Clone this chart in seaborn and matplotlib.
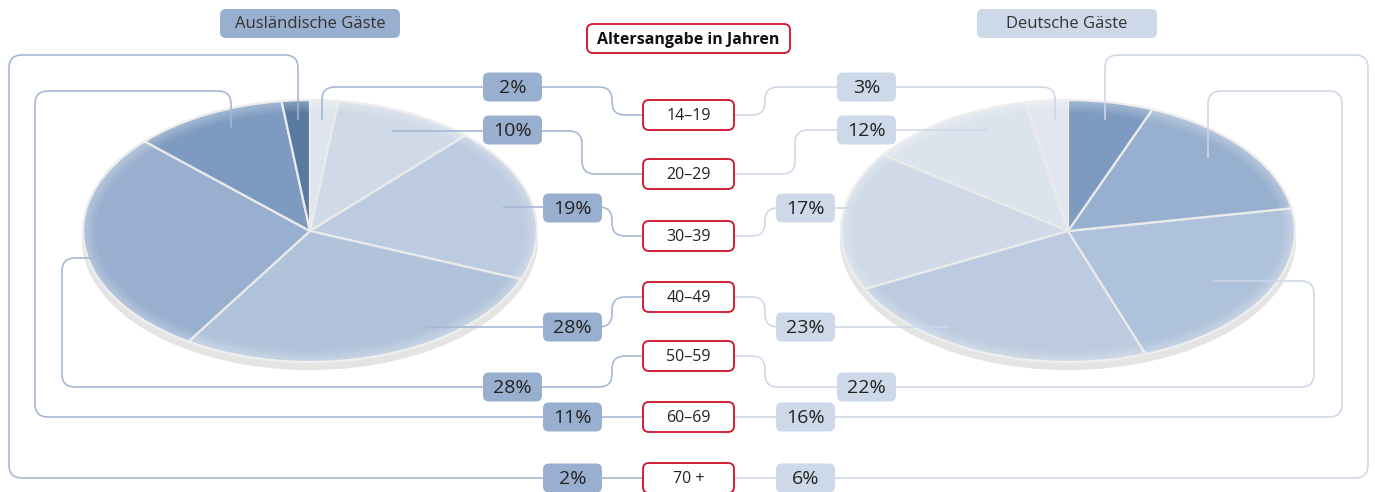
import numpy as np
import matplotlib
matplotlib.use("Agg")
import matplotlib.pyplot as plt
from matplotlib.patches import FancyBboxPatch, PathPatch, Ellipse
from matplotlib.path import Path
import seaborn as sns

sns.set_theme(style="white")
plt.rcParams["font.family"] = ["Liberation Sans Narrow", "Open Sans", "DejaVu Sans"]

# --- data ---
age_groups = ["14–19", "20–29", "30–39", "40–49", "50–59", "60–69", "70 +"]
ausland = [2, 10, 19, 28, 28, 11, 2]
deutsch = [3, 12, 17, 23, 22, 16, 6]
ausland_colors = ["#dfe5ee", "#cfd9e7", "#bccbe0", "#b0c3db", "#98afcf", "#7d9bc1", "#587aa1"]
deutsch_colors = ["#e3e6ee", "#dbe3ed", "#cfd9e7", "#bccbdf", "#afc2db", "#98b0cf", "#7d9bc1"]

# --- layout (pixels) ---
W, H = 1375, 492
LCOL = "#98afcf"
RCOL = "#cdd8e8"
LLINE = "#a3b6d3"
RLINE = "#cdd7e7"
RED = "#d0102a"

age_y = [115, 174, 236, 297, 356, 417, 478]
box_y = [87, 130, 208, 327, 387, 417, 478]
left_box_x = [483, 483, 543, 543, 483, 543, 543]
right_box_x = [837, 837, 776, 776, 837, 776, 776]

# connector routes: pie -> percent box -> age box
left_paths = [
    [(322, 120), (322, 87), (612, 87), (612, 115), (643, 115)],
    [(392, 131), (582, 131), (582, 174), (643, 174)],
    [(503, 207), (612, 207), (612, 236), (643, 236)],
    [(425, 327), (612, 327), (612, 297), (643, 297)],
    [(105, 258), (62, 258), (62, 387), (612, 387), (612, 356), (643, 356)],
    [(231, 128), (231, 91), (35, 91), (35, 417), (643, 417)],
    [(298, 120), (298, 55), (9, 55), (9, 478), (643, 478)],
]
right_paths = [
    [(734, 115), (765, 115), (765, 87), (1055, 87), (1055, 120)],
    [(734, 174), (795, 174), (795, 130), (988, 130)],
    [(734, 236), (765, 236), (765, 208), (850, 208)],
    [(734, 297), (765, 297), (765, 327), (950, 327)],
    [(734, 356), (765, 356), (765, 387), (1314, 387), (1314, 281), (1213, 281)],
    [(734, 417), (1342, 417), (1342, 91), (1208, 91), (1208, 158)],
    [(734, 478), (1368, 478), (1368, 55), (1105, 55), (1105, 120)],
]


def rounded_path(points, r=13):
    pts = [np.array(p, dtype=float) for p in points]
    verts = [pts[0]]
    codes = [Path.MOVETO]
    for i in range(1, len(pts) - 1):
        p0, p1, p2 = pts[i - 1], pts[i], pts[i + 1]
        l1 = np.linalg.norm(p1 - p0)
        l2 = np.linalg.norm(p2 - p1)
        rr = min(r, l1 / 2, l2 / 2)
        a = p1 - (p1 - p0) / l1 * rr
        b = p1 + (p2 - p1) / l2 * rr
        verts += [a, p1, b]
        codes += [Path.LINETO, Path.CURVE3, Path.CURVE3]
    verts.append(pts[-1])
    codes.append(Path.LINETO)
    return Path(verts, codes)


def box(ax, x, y, w, h, text, fc, ec="none", lw=0, size=14, weight="normal", color="#222222"):
    ax.add_patch(FancyBboxPatch((x, y), w, h, boxstyle="round,pad=0,rounding_size=6",
                                fc=fc, ec=ec, lw=lw, zorder=4))
    ax.text(x + w / 2, y + h / 2 + 1, text, ha="center", va="center", fontsize=size,
            fontweight=weight, color=color, zorder=5)


def draw_pie(fig, cx, cy, values, colors, counterclock, rx=227, ry=131, pad=0.12):
    x0, x1 = cx - rx * (1 + pad), cx + rx * (1 + pad)
    yt, yb = cy - ry * (1 + pad), cy + ry * (1 + pad)
    a = fig.add_axes([x0 / W, 1 - yb / H, (x1 - x0) / W, (yb - yt) / H])
    # grey base below the disc
    a.add_patch(Ellipse((0, -0.062), 2.01, 2.0, fc="#e4e4e4", ec="none", zorder=0))
    wedges, _ = a.pie(values, colors=colors, startangle=90, counterclock=counterclock,
                      radius=1, center=(0, 0),
                      wedgeprops=dict(edgecolor="#eaeaea", linewidth=1.6))
    for w in wedges:
        w.set_zorder(1)
    # soft rim shading
    for k in range(10):
        a.add_patch(Ellipse((0, 0), 2 - 0.012 * k, 2 - 0.02 * k, fill=False,
                            ec="white", lw=2.2, alpha=0.15 * (1 - k / 10), zorder=2))
    a.set_aspect("auto")
    a.set_xlim(-1 - pad, 1 + pad)
    a.set_ylim(-1 - pad, 1 + pad)
    a.axis("off")
    a.set_zorder(1)


fig = plt.figure(figsize=(W / 100, H / 100), dpi=100)

draw_pie(fig, 310, 231, ausland, ausland_colors, counterclock=False)
draw_pie(fig, 1068, 231, deutsch, deutsch_colors, counterclock=True)

ax = fig.add_axes([0, 0, 1, 1])
ax.set_xlim(0, W)
ax.set_ylim(H, 0)
ax.axis("off")
ax.set_zorder(2)
ax.patch.set_visible(False)

for pts in left_paths:
    ax.add_patch(PathPatch(rounded_path(pts), fill=False, ec=LLINE, lw=1.15, zorder=3))
for pts in right_paths:
    ax.add_patch(PathPatch(rounded_path(pts), fill=False, ec=RLINE, lw=1.15, zorder=3))

# headers
box(ax, 220, 9, 180, 29, "Ausländische Gäste", LCOL, size=12, color="#333333")
box(ax, 977, 9, 180, 29, "Deutsche Gäste", RCOL, size=12, color="#333333")
box(ax, 587, 24, 203, 29, "Altersangabe in Jahren", "white", ec=RED, lw=1.3,
    size=11.5, weight="bold", color="#111111")

for i, grp in enumerate(age_groups):
    box(ax, 643, age_y[i] - 15, 91, 30, grp, "white", ec=RED, lw=1.3, size=11.5)
    box(ax, left_box_x[i], box_y[i] - 14.5, 59, 29, f"{ausland[i]}%", LCOL, size=14)
    box(ax, right_box_x[i], box_y[i] - 14.5, 59, 29, f"{deutsch[i]}%", RCOL, size=14)

fig.savefig("out.png", dpi=100)
